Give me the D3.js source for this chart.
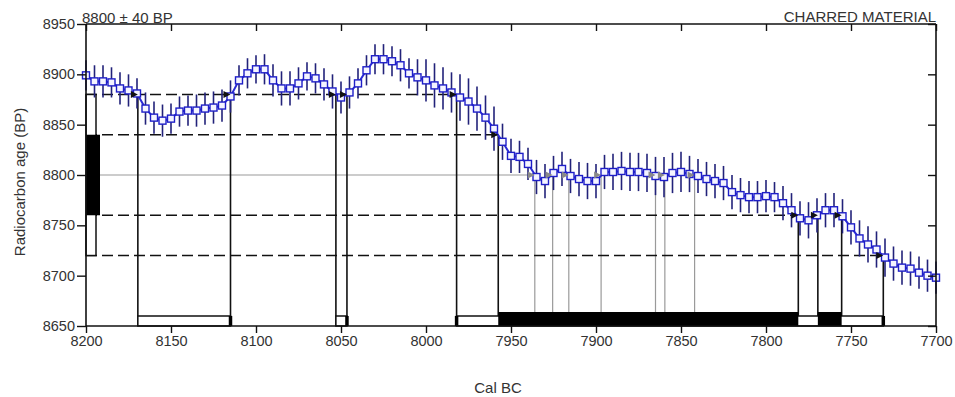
<!DOCTYPE html>
<html>
<head>
<meta charset="utf-8">
<script src="https://cdn.jsdelivr.net/npm/d3@7"></script>
<style>
  body { margin: 0; background: #fff; }
  svg text { font-family: "Liberation Sans", Arial, sans-serif; fill: #333; }
</style>
</head>
<body>
<div id="chart"></div>
<script>
// calibration curve, cal BC -> radiocarbon age (BP) with 1 sigma
const calYears = [8200, 8195, 8190, 8185, 8180, 8175, 8170, 8165, 8160, 8155, 8150, 8145, 8140, 8135, 8130, 8125, 8120,
  8115, 8110, 8105, 8100, 8095, 8090, 8085, 8080, 8075, 8070, 8065, 8060, 8055, 8050, 8045, 8040, 8035, 8030,
  8025, 8020, 8015, 8010, 8005, 8000, 7995, 7990, 7985, 7980, 7975, 7970, 7965, 7960, 7955, 7950, 7945, 7940,
  7935, 7930, 7925, 7920, 7915, 7910, 7905, 7900, 7895, 7890, 7885, 7880, 7875, 7870, 7865, 7860, 7855, 7850,
  7845, 7840, 7835, 7830, 7825, 7820, 7815, 7810, 7805, 7800, 7795, 7790, 7785, 7780, 7775, 7770, 7765, 7760,
  7755, 7750, 7745, 7740, 7735, 7730, 7725, 7720, 7715, 7710, 7705, 7700];
const curveAge = [8899, 8893, 8893, 8892, 8886, 8884, 8881, 8866, 8857, 8854, 8856, 8863, 8864, 8864, 8866, 8867, 8869,
  8878, 8894, 8901, 8905, 8905, 8894, 8886, 8886, 8891, 8898, 8896, 8890, 8883, 8877, 8882, 8891, 8904, 8915,
  8915, 8913, 8909, 8901, 8897, 8894, 8889, 8886, 8882, 8877, 8873, 8866, 8857, 8846, 8833, 8819, 8818, 8811,
  8798, 8794, 8802, 8806, 8799, 8796, 8794, 8794, 8803, 8803, 8804, 8803, 8803, 8802, 8799, 8798, 8802, 8803,
  8801, 8799, 8796, 8794, 8792, 8783, 8780, 8778, 8778, 8779, 8778, 8772, 8765, 8757, 8755, 8760, 8765, 8765,
  8759, 8748, 8737, 8731, 8726, 8718, 8712, 8708, 8707, 8703, 8700, 8698];
const curveErr = [15, 16, 16, 15, 16, 16, 15, 16, 16, 16, 15, 15, 15, 16, 16, 16, 16,
  16, 15, 15, 14, 15, 16, 17, 17, 16, 14, 15, 16, 17, 16, 16, 15, 15, 15,
  15, 15, 16, 15, 18, 21, 22, 21, 20, 23, 23, 22, 22, 22, 18, 17, 16, 16,
  17, 17, 17, 17, 17, 17, 18, 17, 17, 18, 19, 19, 19, 19, 19, 20, 20, 20,
  18, 17, 17, 17, 17, 17, 17, 16, 16, 16, 15, 17, 17, 17, 18, 17, 17, 17,
  17, 17, 18, 18, 18, 19, 17, 17, 17, 16, 16, 16];

// measurement
const measAge = 8800;
const measErr = 40;

// where the curve crosses the sigma levels (cal BC)
const cross2Years = [8169.5, 8115, 8053, 8046.5, 7982, 7731];
const cross2Levels = [8880, 8880, 8880, 8880, 8880, 8720];
const cross1Years = [7957.5, 7781, 7769.5, 7755.5];
const cross1Levels = [8840, 8760, 8760, 8760];
const crossMeanYears = [7936, 7925.5, 7916, 7897, 7865, 7859.5, 7842];

// dashed level lines: age and the cal BC year where each stops
const levelAges = [8880, 8840, 8760, 8720];
const levelEnds = [7982, 7957.5, 7781, 7731];

// calibrated ranges
const range2 = [[8169.5, 8115], [8053, 8046.5], [7982, 7731]];
const range1 = [[7957.5, 7781], [7769.5, 7755.5]];

const xTicks = [8200, 8150, 8100, 8050, 8000, 7950, 7900, 7850, 7800, 7750, 7700];
const yTicks = [8650, 8700, 8750, 8800, 8850, 8900, 8950];

const margin = { top: 24, right: 19, bottom: 71, left: 86 };
const W = 955, H = 397;
const width = W - margin.left - margin.right;
const height = H - margin.top - margin.bottom;

const svg = d3.select('#chart').append('svg').attr('width', W).attr('height', H);
const g = svg.append('g').attr('transform', `translate(${margin.left},${margin.top})`);

const x = d3.scaleLinear().domain([8200, 7700]).range([0, width]);
const y = d3.scaleLinear().domain([8650, 8950]).range([height, 0]);

const pts = calYears.map((yr, i) => ({ yr, age: curveAge[i], err: curveErr[i] }));

// mean line (grey) up to the first crossing, then drop lines
g.append('line')
  .attr('x1', 0).attr('x2', x(crossMeanYears[0]))
  .attr('y1', y(measAge)).attr('y2', y(measAge))
  .attr('stroke', '#9a9a9a').attr('stroke-width', 1.2);
g.selectAll('.mdrop').data(crossMeanYears).enter().append('line')
  .attr('class', 'mdrop')
  .attr('x1', d => x(d)).attr('x2', d => x(d))
  .attr('y1', y(measAge)).attr('y2', height)
  .attr('stroke', '#9a9a9a').attr('stroke-width', 1.2);

// dashed sigma levels
g.selectAll('.lvl').data(levelAges).enter().append('line')
  .attr('class', 'lvl')
  .attr('x1', 0).attr('x2', (d, i) => x(levelEnds[i]))
  .attr('y1', d => y(d)).attr('y2', d => y(d))
  .attr('stroke', '#111').attr('stroke-width', 1.6)
  .attr('stroke-dasharray', '11,5');

// vertical drop lines
const drops = cross2Years.map((c, i) => ({ c, l: cross2Levels[i] }))
  .concat(cross1Years.map((c, i) => ({ c, l: cross1Levels[i] })));
g.selectAll('.drop').data(drops).enter().append('line')
  .attr('class', 'drop')
  .attr('x1', d => x(d.c)).attr('x2', d => x(d.c))
  .attr('y1', d => y(d.l)).attr('y2', height)
  .attr('stroke', '#111').attr('stroke-width', 1.6);

// probability bars on the age axis
g.append('rect')
  .attr('x', 0).attr('width', 10)
  .attr('y', y(measAge + 2 * measErr)).attr('height', y(measAge - 2 * measErr) - y(measAge + 2 * measErr))
  .attr('fill', '#fff').attr('stroke', '#111').attr('stroke-width', 1.5);
g.append('rect')
  .attr('x', 0).attr('width', 14)
  .attr('y', y(measAge + measErr)).attr('height', y(measAge - measErr) - y(measAge + measErr))
  .attr('fill', '#000');

// calibrated ranges on the date axis
g.selectAll('.r2').data(range2).enter().append('rect')
  .attr('class', 'r2')
  .attr('x', d => x(d[0])).attr('width', d => x(d[1]) - x(d[0]))
  .attr('y', height - 10).attr('height', 10)
  .attr('fill', '#fff').attr('stroke', '#111').attr('stroke-width', 1.5);
g.selectAll('.r2edge').data([8115, 8046.5, 7982, 7731]).enter().append('line')
  .attr('x1', d => x(d)).attr('x2', d => x(d))
  .attr('y1', height - 10).attr('y2', height)
  .attr('stroke', '#000').attr('stroke-width', 3.5);
g.selectAll('.r1').data(range1).enter().append('rect')
  .attr('class', 'r1')
  .attr('x', d => x(d[0])).attr('width', d => x(d[1]) - x(d[0]))
  .attr('y', height - 14).attr('height', 14)
  .attr('fill', '#000');

// calibration curve
g.selectAll('.eb').data(pts).enter().append('line')
  .attr('class', 'eb')
  .attr('x1', d => x(d.yr)).attr('x2', d => x(d.yr))
  .attr('y1', d => y(d.age + d.err)).attr('y2', d => y(d.age - d.err))
  .attr('stroke', '#22227a').attr('stroke-width', 1.6);

g.append('path').datum(pts)
  .attr('d', d3.line().x(d => x(d.yr)).y(d => y(d.age)))
  .attr('fill', 'none').attr('stroke', '#2a2ad6').attr('stroke-width', 2);

g.selectAll('.sq').data(pts).enter().append('rect')
  .attr('class', 'sq')
  .attr('x', d => x(d.yr) - 3.5).attr('y', d => y(d.age) - 3.5)
  .attr('width', 7).attr('height', 7)
  .attr('fill', '#f4f4ff').attr('stroke', '#1e1ec8').attr('stroke-width', 1.4);

// crossing markers
const tri = (cx, cy) => `M${cx},${cy} L${cx - 7},${cy - 3.5} L${cx - 7},${cy + 3.5} Z`;
g.selectAll('.tk').data(drops).enter().append('path')
  .attr('class', 'tk')
  .attr('d', d => tri(x(d.c), y(d.l)))
  .attr('fill', '#111');
g.selectAll('.tg').data(crossMeanYears).enter().append('path')
  .attr('class', 'tg')
  .attr('d', d => tri(x(d), y(measAge)))
  .attr('fill', '#8a8a8a');

// axes
const axL = g.append('g').call(d3.axisLeft(y).tickValues(yTicks).tickSize(9).tickPadding(2).tickFormat(d3.format('d')));
const axB = g.append('g').attr('transform', `translate(0,${height})`)
  .call(d3.axisBottom(x).tickValues(xTicks).tickSize(7).tickPadding(3).tickFormat(d3.format('d')));
const axT = g.append('g').call(d3.axisTop(x).tickValues(xTicks).tickSize(-7).tickFormat(''));
const axR = g.append('g').attr('transform', `translate(${width},0)`)
  .call(d3.axisRight(y).tickValues(yTicks).tickSize(-8).tickFormat(''));

[axL, axB, axT, axR].forEach(a => {
  a.select('.domain').attr('stroke', '#111').attr('stroke-width', 1.6);
  a.selectAll('.tick line').attr('stroke', '#111').attr('stroke-width', 1.4);
  a.selectAll('text').attr('font-size', 14.5).attr('font-family', '"Liberation Sans", Arial, sans-serif').attr('fill', '#333');
});
axL.select('.domain').attr('d', `M0,0V${height}`);
axB.select('.domain').attr('d', `M0,0H${width}`);
axT.select('.domain').attr('d', `M0,0H${width}`);
axR.select('.domain').attr('d', `M0,0V${height}`);

// titles
svg.append('text').attr('x', 82).attr('y', 22.5)
  .attr('font-size', 15).text('8800 ± 40 BP');
svg.append('text').attr('x', 936).attr('y', 22)
  .attr('text-anchor', 'end').attr('font-size', 15).text('CHARRED MATERIAL');
svg.append('text').attr('x', 498).attr('y', 393)
  .attr('text-anchor', 'middle').attr('font-size', 15).text('Cal BC');
svg.append('text')
  .attr('transform', 'translate(25,182) rotate(-90)')
  .attr('text-anchor', 'middle').attr('font-size', 15).attr('fill', '#444')
  .text('Radiocarbon age (BP)');
</script>
</body>
</html>
